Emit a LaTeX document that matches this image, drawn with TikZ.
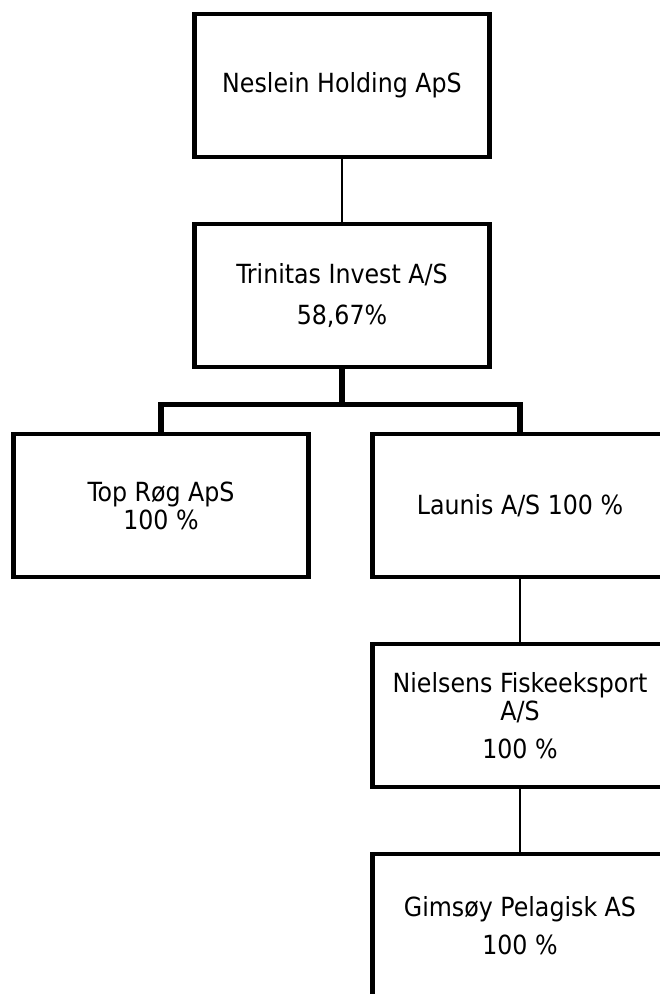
\documentclass[tikz,border=0pt]{standalone}
\usepackage{fontspec}
\setsansfont{DejaVu Sans Condensed}

\begin{document}
\begin{tikzpicture}[-,auto,node distance=4.2cm,company node/.style={rectangle,draw,line width=2.6pt,minimum width=5.9cm,minimum height=2.86cm,inner sep=0pt,align=center,font=\sffamily\fontsize{15}{16}\selectfont}]
            \path[use as bounding box,clip] (0,0) rectangle (13.2,-19.88);
            \node[company node] (1) at (6.84,-1.71) {Neslein Holding ApS};
            \node[company node] (2) [below of=1] {Trinitas Invest A/S\\[7pt]58,67\%};
            \node[company node] (3) [below of=2, xshift=-3.62cm] {Top Røg ApS\\100 \%};
            \node[company node] (4) [below of=2, xshift=3.56cm] {Launis A/S 100 \%};
            \node[company node] (5) [below of=4] {Nielsens Fiskeeksport\\A/S\\[5.5pt]100 \%};
            \node[company node] (6) [below of=5] {Gimsøy Pelagisk AS\\[5.5pt]100 \%};

            \path[line width=1.1pt]
                    (1) edge (2)
                    (4) edge (5)
                    (5) edge (6)
                ;
            \draw[line width=3pt] (2.south) -- ++(0,-0.7) coordinate (bus) -| (3.north)
                    (bus) -| (4.north);
        \end{tikzpicture}
\end{document}
